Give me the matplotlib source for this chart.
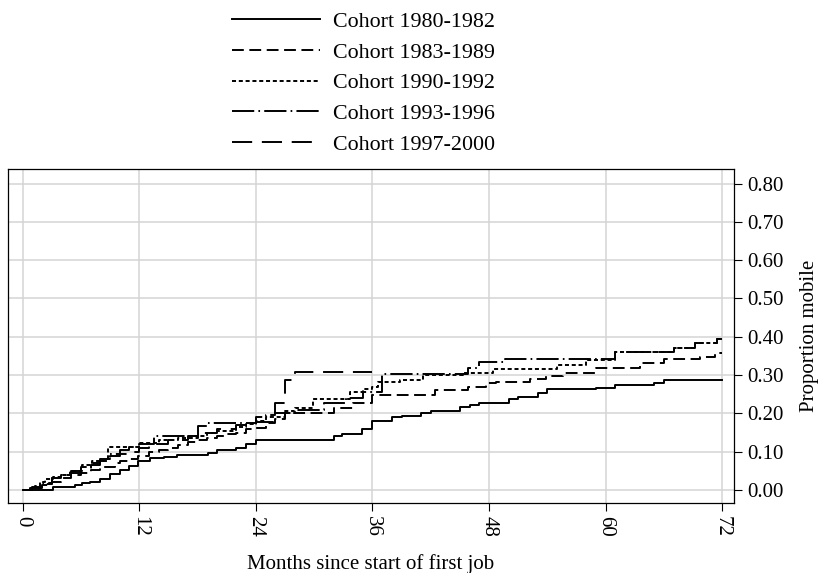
import matplotlib
matplotlib.use("Agg")
import matplotlib.pyplot as plt

plt.rcParams['font.family'] = ['Liberation Serif', 'DejaVu Serif']
plt.rcParams['lines.scale_dashes'] = False

# Kaplan-Meier style failure curves: month of each step and proportion mobile after it
t_8082 = [0, 3.1, 5.4, 6.1, 6.9, 8, 9, 10, 11, 11.9, 13.1, 14.6, 15.9, 19.1, 20, 22, 23, 24,
          32, 32.9, 34.9, 36, 38, 39, 41, 42, 45, 46, 47, 50, 51, 53, 54, 59, 61, 65, 66, 72]
p_8082 = [0, 0.007, 0.012, 0.017, 0.022, 0.029, 0.041, 0.052, 0.063, 0.076, 0.083, 0.087, 0.091,
          0.097, 0.104, 0.110, 0.119, 0.130, 0.141, 0.145, 0.158, 0.181, 0.190, 0.194, 0.200,
          0.206, 0.216, 0.222, 0.228, 0.237, 0.244, 0.252, 0.263, 0.267, 0.273, 0.279, 0.287, 0.287]

t_8389 = [0, 1, 2, 3, 4, 5, 6, 7, 8, 9.5, 10, 11, 11.9, 13, 14, 15, 16, 17, 18, 19, 20, 21, 22,
          23, 24, 25, 26, 27, 32, 34, 36, 42.4, 45.8, 47.7, 48.7, 52.2, 53.9, 55.6, 59, 63.5,
          66, 69.7, 71.2, 72]
p_8389 = [0, 0.005, 0.012, 0.022, 0.030, 0.038, 0.045, 0.052, 0.059, 0.070, 0.075, 0.080, 0.089,
          0.098, 0.104, 0.110, 0.118, 0.125, 0.130, 0.135, 0.140, 0.145, 0.150, 0.158, 0.163,
          0.175, 0.185, 0.200, 0.213, 0.226, 0.248, 0.261, 0.268, 0.279, 0.283, 0.290, 0.298,
          0.305, 0.318, 0.332, 0.341, 0.348, 0.358, 0.358]

t_9092 = [0, 0.75, 1.3, 1.8, 2.3, 3.1, 4.2, 4.9, 6.1, 7.1, 8.8, 12, 14, 16, 18, 19, 20, 22, 23,
          24, 25, 27, 28, 29.9, 33.7, 35, 36, 36.6, 38.8, 41.2, 45.3, 48.4, 55, 58, 61, 67,
          69.2, 71.4, 72]
p_9092 = [0, 0.005, 0.010, 0.022, 0.028, 0.035, 0.040, 0.050, 0.065, 0.075, 0.113, 0.122, 0.130,
          0.135, 0.140, 0.150, 0.155, 0.165, 0.172, 0.180, 0.190, 0.205, 0.215, 0.237, 0.257,
          0.263, 0.270, 0.283, 0.287, 0.300, 0.305, 0.315, 0.326, 0.339, 0.359, 0.370, 0.385,
          0.393, 0.393]

t_9396 = [0, 1, 2, 3, 4, 5, 6, 7, 8, 9, 10, 11, 12, 13.5, 18, 19, 24, 25, 26, 28, 31, 33.3,
          35, 37, 45.8, 47, 49.6, 61, 67, 69.2, 71.4, 72]
p_9396 = [0, 0.008, 0.018, 0.030, 0.040, 0.050, 0.060, 0.070, 0.080, 0.095, 0.105, 0.112, 0.120,
          0.141, 0.167, 0.176, 0.190, 0.196, 0.200, 0.210, 0.226, 0.240, 0.257, 0.303, 0.318,
          0.335, 0.341, 0.359, 0.370, 0.385, 0.393, 0.393]

t_9700 = [0, 1, 2, 3, 4, 5, 6, 7, 8, 9, 10, 11, 12, 13, 15, 17, 18, 20, 22, 24, 26, 27, 28, 36]
p_9700 = [0, 0.005, 0.015, 0.030, 0.040, 0.045, 0.055, 0.065, 0.075, 0.090, 0.095, 0.100, 0.110,
          0.120, 0.130, 0.140, 0.150, 0.160, 0.170, 0.178, 0.228, 0.287, 0.309, 0.309]

cohorts = ['Cohort 1980-1982', 'Cohort 1983-1989', 'Cohort 1990-1992',
           'Cohort 1993-1996', 'Cohort 1997-2000']
month_ticks = [0, 12, 24, 36, 48, 60, 72]
prop_ticks = [0, 0.1, 0.2, 0.3, 0.4, 0.5, 0.6, 0.7, 0.8]

series = [(t_8082, p_8082), (t_8389, p_8389), (t_9092, p_9092),
          (t_9396, p_9396), (t_9700, p_9700)]
dash_styles = ['-', (0, (8.5, 4)), (0, (2.9, 2.0)), (0, (16, 3, 1.2, 3)), (0, (14.5, 7))]

fig = plt.figure(figsize=(8.2, 5.73), dpi=100)
ax = fig.add_axes([8 / 820, 1 - 503 / 573, (734 - 8) / 820, (503 - 169) / 573])

for (t, p), ls, lab in zip(series, dash_styles, cohorts):
    ax.step(t, p, where='post', color='black', lw=1.4, linestyle=ls, label=lab)

ax.set_xlim(-1.5, 73.2)
ax.set_ylim(-0.034, 0.838)
ax.set_xticks(month_ticks)
ax.set_xticklabels([str(m) for m in month_ticks], rotation=-90)
ax.set_yticks(prop_ticks)
ax.set_yticklabels(['%.2f' % v for v in prop_ticks])
ax.yaxis.tick_right()
ax.yaxis.set_label_position('right')
ax.tick_params(axis='both', labelsize=15, direction='out', length=6, width=0.8, color='black')
ax.grid(True, color='#d4d4d4', lw=1.1)
ax.set_axisbelow(True)
for s in ax.spines.values():
    s.set_linewidth(0.9)

ax.set_xlabel('Months since start of first job', fontsize=15, labelpad=12)
ax.set_ylabel('Proportion mobile', fontsize=15, labelpad=12)

fig.legend(loc='upper left', bbox_to_anchor=(232 / 820, 1 - 11.5 / 573), frameon=False,
           fontsize=15.8, handlelength=4.0, handletextpad=0.62, labelspacing=0.47,
           borderpad=0, borderaxespad=0)

fig.savefig('out.png', dpi=100)
